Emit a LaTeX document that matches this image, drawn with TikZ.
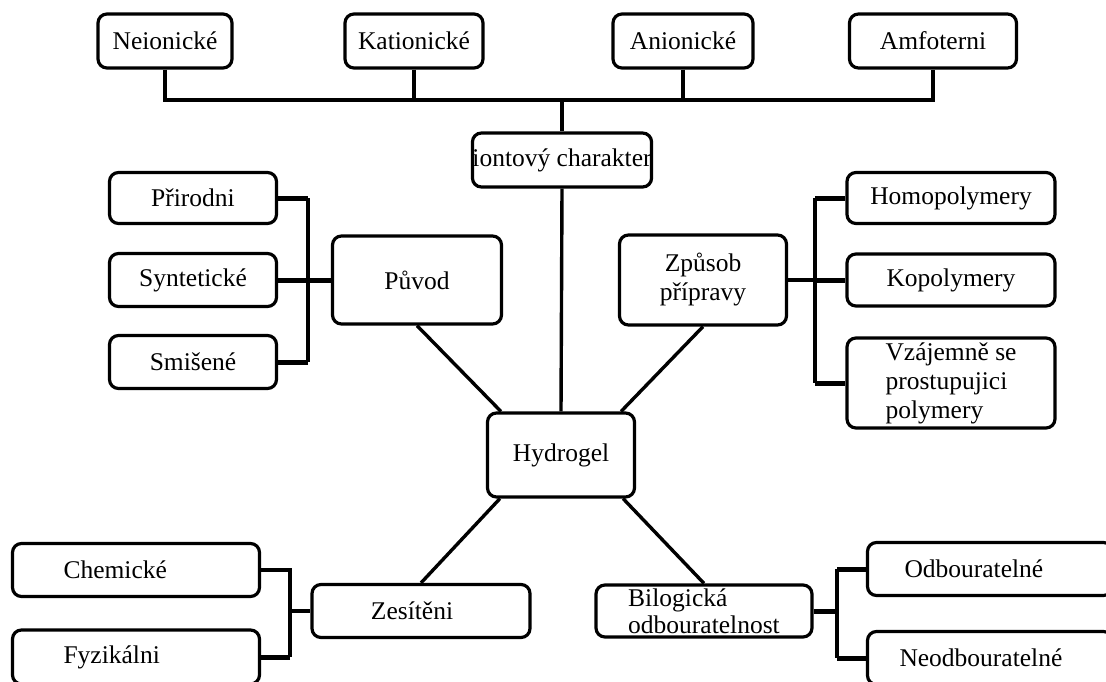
\documentclass[tikz,border=0pt]{standalone}
\usepackage{fontspec}
\setmainfont{Liberation Serif}
\newfontfamily\boxfont{Liberation Serif}
\usetikzlibrary{calc}

\begin{document}
\begin{tikzpicture}[x=1pt,y=-1pt,
    box/.style={draw,line width=3.2pt,rounded corners=9pt,fill=white,inner sep=0pt,align=center,font=\boxfont\fontsize{25.5}{29}\selectfont},
    link/.style={line width=3.4pt},
    stub/.style={line width=5pt}]
    \path[use as bounding box,fill=white] (0,0) rectangle (1106,681);

    % ionic character row
    \node[box,minimum width=134pt,minimum height=54pt] (neion) at (165,41) {Neionické};
    \node[box,minimum width=138pt,minimum height=54pt] (kation) at (414,41) {Kationické};
    \node[box,minimum width=140pt,minimum height=54pt] (anion) at (683,41) {Anionické};
    \node[box,minimum width=167pt,minimum height=54pt] (amfo) at (933,41) {Amfoterni};
    \node[box,minimum width=175pt,minimum height=54pt] (ion) at (562,160) {iontový charakter};

    % centre
    \node[box,minimum width=147pt,minimum height=84pt] (hydrogel) at (561,455) {Hydrogel};

    % origin
    \node[box,minimum width=169pt,minimum height=88pt] (puvod) at (417,280) {Původ};
    \node[box,minimum width=167pt,minimum height=51pt] (prir) at (193,198) {Přirodni};
    \node[box,minimum width=167pt,minimum height=53pt] (synt) at (193,280) {Syntetické};
    \node[box,minimum width=167pt,minimum height=53pt] (smis) at (193,362) {Smišené};

    % preparation
    \node[box,minimum width=167pt,minimum height=90pt] (zpusob) at (703,280) {Způsob\\přípravy};
    \node[box,minimum width=208pt,minimum height=51pt] (homo) at (951,198) {Homopolymery};
    \node[box,minimum width=208pt,minimum height=52pt] (kopo) at (951,280) {Kopolymery};
    \node[box,minimum width=208pt,minimum height=90pt,align=left] (vzaj) at (951,383) {Vzájemně se\\prostupujici\\polymery};

    % crosslinking
    \node[box,minimum width=218pt,minimum height=53pt,inner xsep=4pt] (zesit) at (421,611) {Zesítěni\hspace{18pt}};
    \node[box,minimum height=53pt,align=left,text width=145pt,inner xsep=51pt] (chem) at (136,570) {Chemické};
    \node[box,minimum height=54pt,align=left,text width=145pt,inner xsep=51pt] (fyz) at (136,657) {Fyzikálni};

    % degradability
    \node[box,minimum width=216pt,minimum height=52pt,align=left,font=\boxfont\fontsize{25.5}{27}\selectfont] (bilog) at (704,611) {Bilogická\\odbouratelnost};
    \node[box,minimum height=53pt,align=left,text width=181pt,inner xsep=32pt] (odb) at (990,569) {\hspace{5pt}Odbouratelné};
    \node[box,minimum height=53pt,align=left,text width=181pt,inner xsep=32pt] (neodb) at (990,658) {Neodbouratelné};

    % top bar
    \coordinate (bar) at (562,100);
    \draw[link] (neion.south) -- (neion.south |- bar) -- (amfo.south |- bar) -- (amfo.south);
    \draw[link] (kation.south) -- (kation.south |- bar);
    \draw[link] (anion.south) -- (anion.south |- bar);
    \draw[link] (bar) -- (ion.north);
    \draw[link] (ion.south) -- (hydrogel.north);

    % spokes
    \draw[link] (puvod.south) -- ([xshift=15pt]hydrogel.north west);
    \draw[link] (zpusob.south) -- ([xshift=-15pt]hydrogel.north east);
    \draw[link] (zesit.north) -- ([xshift=14pt]hydrogel.south west);
    \draw[link] (bilog.north) -- ([xshift=-13pt]hydrogel.south east);

    % left bracket
    \coordinate (lbr) at (308,280);
    \draw[stub] (prir.east) -- (prir.east -| lbr);
    \draw[link] (prir.east -| lbr) -- (smis.east -| lbr);
    \draw[stub] (smis.east -| lbr) -- (smis.east);
    \draw[stub] (synt.east) -- (puvod.west);

    % right bracket
    \coordinate (rbr) at (815,280);
    \draw[stub] (homo.west) -- (homo.west -| rbr);
    \draw[link] (homo.west -| rbr) -- (vzaj.west -| rbr);
    \draw[stub] (vzaj.west -| rbr) -- (vzaj.west);
    \draw[link] (zpusob.east) -- (rbr);
    \draw[stub] (rbr) -- (kopo.west);

    % bottom brackets
    \coordinate (blbr) at (290,611);
    \draw[link] (chem.east) -- (chem.east -| blbr) -- (fyz.east -| blbr);
    \draw[stub] (fyz.east -| blbr) -- (fyz.east);
    \draw[link] (blbr) -- (zesit.west);
    \coordinate (brbr) at (837,611);
    \draw[stub] (odb.west) -- (odb.west -| brbr);
    \draw[link] (odb.west -| brbr) -- (neodb.west -| brbr);
    \draw[stub] (neodb.west -| brbr) -- (neodb.west);
    \draw[stub] (bilog.east) -- (brbr);
\end{tikzpicture}
\end{document}
